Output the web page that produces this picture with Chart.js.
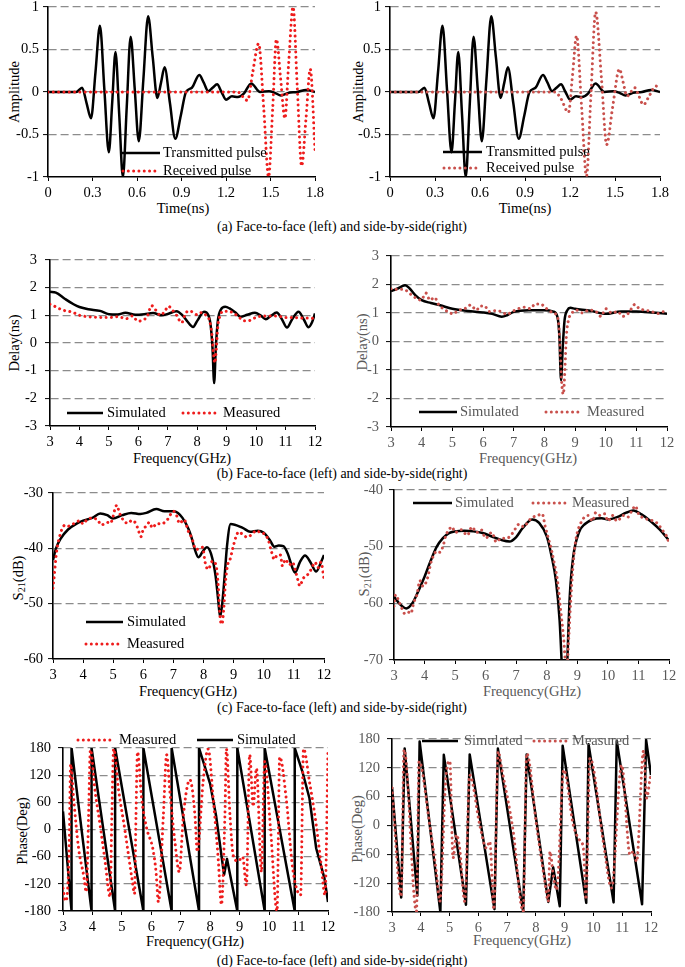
<!DOCTYPE html>
<html><head><meta charset="utf-8">
<script src="https://cdn.jsdelivr.net/npm/chart.js@4.4.1/dist/chart.umd.min.js"></script>
<style>
html,body{margin:0;padding:0;background:#fff;}
body{width:685px;height:967px;position:relative;overflow:hidden;font-family:"Liberation Serif","Times New Roman",serif;}
canvas{position:absolute;}
.t{position:absolute;white-space:nowrap;font-size:14.5px;line-height:1;transform:translate(-50%,-50%);}
.r{transform:translate(-50%,-50%) rotate(-90deg);}
.g{color:#595959;}
.cap{font-size:13.9px;}
sub{font-size:0.7em;vertical-align:-0.25em;line-height:0;}
</style></head>
<body>
<div class="t r" style="left:13.5px;top:92px">Amplitude</div>
<div class="t r" style="left:358px;top:92px">Amplitude</div>
<div class="t" style="left:183px;top:208px">Time(ns)</div>
<div class="t" style="left:525px;top:208px">Time(ns)</div>
<div class="t cap" style="left:342px;top:227px">(a) Face-to-face (left) and side-by-side(right)</div>

<div class="t r" style="left:14px;top:343px">Delay(ns)</div>
<div class="t r g" style="left:362px;top:342px">Delay(ns)</div>
<div class="t" style="left:182px;top:458px">Frequency(GHz)</div>
<div class="t g" style="left:528px;top:458px">Frequency(GHz)</div>
<div class="t cap" style="left:342px;top:474px">(b) Face-to-face (left) and side-by-side(right)</div>

<div class="t r" style="left:18px;top:578px">S<sub>21</sub>(dB)</div>
<div class="t r g" style="left:364px;top:574px">S<sub>21</sub>(dB)</div>
<div class="t" style="left:188px;top:691px">Frequency(GHz)</div>
<div class="t g" style="left:532px;top:691px">Frequency(GHz)</div>
<div class="t cap" style="left:342px;top:708px">(c) Face-to-face (left) and side-by-side(right)</div>

<div class="t r" style="left:21.5px;top:831px">Phase(Deg)</div>
<div class="t r g" style="left:356.5px;top:829px">Phase(Deg)</div>
<div class="t" style="left:195px;top:941px">Frequency(GHz)</div>
<div class="t g" style="left:522px;top:940px">Frequency(GHz)</div>
<div class="t cap" style="left:342px;top:961px">(d) Face-to-face (left) and side-by-side(right)</div>

<script>
// ---------------- tick labels ----------------
const ampTicks = [-1, -0.5, 0, 0.5, 1];
const timeTicks = [0, 0.3, 0.6, 0.9, 1.2, 1.5, 1.8];
const delayTicks = [-3, -2, -1, 0, 1, 2, 3];
const freqTicks = [3, 4, 5, 6, 7, 8, 9, 10, 11, 12];
const s21LeftTicks = [-60, -50, -40, -30];
const s21RightTicks = [-70, -60, -50, -40];
const phaseTicks = [-180, -120, -60, 0, 60, 120, 180];

// ---------------- (a) pulses ----------------
const pulseTime = [0, 0.15, 0.19, 0.23, 0.26, 0.29, 0.32, 0.35, 0.38, 0.41, 0.433, 0.455, 0.48, 0.505, 0.531, 0.557, 0.585, 0.612, 0.643, 0.675, 0.706, 0.737, 0.762, 0.786, 0.822, 0.858, 0.895, 0.93, 0.97, 1.02, 1.05, 1.08, 1.11, 1.14, 1.17, 1.2, 1.24, 1.28, 1.32, 1.37, 1.43, 1.49, 1.53, 1.57, 1.62, 1.68, 1.74, 1.8];
const transmittedPulse = [0, 0, 0, 0.05, -0.13, -0.31, 0.23, 0.78, 0.03, -0.71, -0.12, 0.47, -0.26, -1.0, -0.17, 0.65, 0.03, -0.58, 0.15, 0.89, 0.41, -0.07, 0.11, 0.29, -0.13, -0.55, -0.28, 0.0, 0.05, 0.2, 0.11, 0.01, 0.05, 0.09, 0.0, -0.09, -0.05, -0.06, -0.02, 0.1, 0.0, 0.01, -0.01, -0.04, -0.01, 0.0, 0.025, 0.0];

const recvTimeFace = [0, 1.28, 1.31, 1.345, 1.38, 1.42, 1.455, 1.487, 1.515, 1.54, 1.568, 1.597, 1.623, 1.652, 1.68, 1.71, 1.74, 1.768, 1.8];
const recvPulseFace = [0, 0, -0.05, -0.1, 0.23, 0.57, -0.21, -1.0, -0.19, 0.62, 0.16, -0.31, 0.35, 1.0, 0.07, -0.87, -0.3, 0.27, -0.68];

const recvTimeSide = [0, 1.1, 1.14, 1.19, 1.217, 1.244, 1.277, 1.31, 1.34, 1.371, 1.41, 1.444, 1.485, 1.529, 1.555, 1.58, 1.605, 1.633, 1.66, 1.689, 1.73, 1.773, 1.8];
const recvPulseSide = [0, 0, -0.08, -0.24, 0.2, 0.66, -0.17, -0.99, -0.02, 0.94, 0.15, -0.62, -0.17, 0.27, 0.11, -0.05, 0.0, 0.05, -0.05, -0.15, -0.04, 0.07, 0.04];

// ---------------- (b) group delay ----------------
const delaySimFreqFace = [3.0, 3.2, 3.5, 3.8, 4.0, 4.3, 4.7, 5.0, 5.3, 5.56, 5.9, 6.2, 6.5, 6.8, 7.0, 7.3, 7.5, 7.65, 7.86, 8.0, 8.23, 8.38, 8.46, 8.52, 8.575, 8.63, 8.7, 8.8, 8.95, 9.1, 9.3, 9.47, 9.7, 9.96, 10.15, 10.33, 10.5, 10.7, 10.88, 11.05, 11.22, 11.44, 11.62, 11.78, 11.9, 12.0];
const delaySimFace = [1.85, 1.82, 1.6, 1.4, 1.3, 1.22, 1.16, 1.04, 1.03, 1.09, 1.02, 1.04, 1.08, 1.0, 1.05, 1.15, 1.0, 0.8, 0.58, 0.8, 1.13, 1.0, 0.6, -0.2, -1.45, -0.2, 0.8, 1.2, 1.31, 1.25, 1.1, 0.95, 1.02, 1.09, 1.0, 0.86, 0.98, 1.1, 0.85, 0.56, 0.85, 1.13, 0.85, 0.57, 0.75, 1.07];
const delayMeasFreqFace = [3.0, 3.15, 3.3, 3.5, 3.75, 4.0, 4.3, 4.6, 5.0, 5.3, 5.6, 5.8, 5.98, 6.2, 6.3, 6.45, 6.6, 6.75, 6.9, 7.02, 7.15, 7.3, 7.47, 7.58, 7.68, 7.85, 8.0, 8.15, 8.3, 8.42, 8.5, 8.545, 8.6, 8.65, 8.7, 8.78, 8.88, 9.0, 9.2, 9.4, 9.6, 9.8, 10.0, 10.3, 10.55, 10.8, 11.0, 11.3, 11.6, 11.8, 12.0];
const delayMeasFace = [1.4, 1.33, 1.25, 1.17, 1.12, 1.0, 0.95, 0.93, 0.92, 0.95, 0.88, 0.98, 0.79, 0.85, 0.95, 1.35, 1.18, 1.0, 1.15, 1.33, 1.2, 1.0, 0.73, 1.0, 1.15, 1.12, 1.02, 1.1, 1.0, 0.8, 0.3, -0.3, -0.72, -0.2, 0.6, 1.0, 1.15, 1.15, 1.1, 0.95, 0.8, 0.82, 0.93, 0.98, 0.98, 0.96, 0.92, 0.92, 0.9, 0.9, 0.88];

const delaySimFreqSide = [3.0, 3.2, 3.46, 3.6, 3.8, 4.0, 4.3, 4.6, 5.0, 5.5, 6.0, 6.3, 6.61, 6.8, 7.0, 7.5, 8.0, 8.3, 8.43, 8.49, 8.545, 8.6, 8.66, 8.75, 8.85, 9.0, 9.5, 10.0, 10.5, 11.0, 11.5, 12.0];
const delaySimSide = [1.77, 1.85, 1.97, 1.87, 1.62, 1.45, 1.35, 1.27, 1.15, 1.07, 1.02, 0.97, 0.87, 0.93, 1.04, 1.1, 1.1, 1.05, 0.85, 0.2, -1.36, -0.2, 0.75, 1.1, 1.18, 1.15, 1.08, 0.97, 1.05, 1.05, 1.02, 0.97];
const delayMeasFreqSide = [3.0, 3.2, 3.4, 3.55, 3.68, 3.85, 3.98, 4.14, 4.27, 4.42, 4.55, 4.7, 4.85, 5.03, 5.2, 5.35, 5.6, 5.78, 5.92, 6.05, 6.2, 6.4, 6.6, 6.78, 6.95, 7.15, 7.35, 7.55, 7.7, 7.88, 8.02, 8.2, 8.38, 8.47, 8.52, 8.57, 8.62, 8.67, 8.72, 8.8, 8.9, 9.05, 9.25, 9.45, 9.65, 9.85, 10.0, 10.2, 10.4, 10.55, 10.75, 10.95, 11.1, 11.3, 11.5, 11.7, 11.9, 12.0];
const delayMeasSide = [1.85, 1.83, 1.83, 1.75, 1.62, 1.5, 1.45, 1.7, 1.45, 1.55, 1.3, 1.15, 1.05, 0.97, 1.1, 1.12, 1.28, 1.1, 1.25, 1.25, 1.05, 1.08, 1.05, 0.95, 1.05, 1.15, 1.2, 1.15, 1.32, 1.32, 1.2, 1.05, 0.95, 0.6, -0.4, -1.5, -1.85, -1.0, 0.2, 0.8, 1.0, 1.1, 1.0, 1.1, 1.08, 0.88, 1.15, 1.0, 1.05, 0.88, 1.0, 1.3, 1.15, 1.1, 1.05, 0.98, 1.05, 1.0];

// ---------------- (c) S21 ----------------
const s21SimFreqFace = [3.0, 3.1, 3.25, 3.5, 3.8, 4.0, 4.3, 4.57, 4.8, 4.99, 5.3, 5.6, 5.9, 6.1, 6.43, 6.7, 7.0, 7.15, 7.3, 7.5, 7.6, 7.7, 7.83, 7.97, 8.11, 8.25, 8.4, 8.48, 8.55, 8.62, 8.7, 8.78, 8.9, 9.3, 9.55, 9.8, 10.0, 10.2, 10.35, 10.5, 10.65, 10.8, 10.95, 11.04, 11.2, 11.37, 11.55, 11.74, 11.9, 12.0];
const s21SimFace = [-42.1, -40.0, -38.3, -36.6, -35.5, -35.0, -34.5, -33.7, -34.0, -34.6, -34.0, -33.6, -33.8, -33.6, -32.9, -33.3, -33.3, -33.6, -34.5, -36.5, -38.0, -40.0, -41.6, -40.6, -39.8, -41.0, -45.0, -49.0, -52.4, -50.0, -45.0, -39.5, -35.6, -36.3, -37.0, -36.8, -37.2, -38.5, -39.7, -39.5, -39.6, -41.0, -43.5, -44.4, -42.5, -41.3, -42.5, -44.2, -42.5, -41.2];
const s21MeasFreqFace = [3.0, 3.05, 3.1, 3.15, 3.2, 3.3, 3.4, 3.5, 3.7, 3.9, 4.0, 4.1, 4.3, 4.5, 4.6, 4.8, 4.9, 5.0, 5.05, 5.12, 5.2, 5.35, 5.5, 5.6, 5.75, 5.85, 5.92, 6.0, 6.1, 6.2, 6.3, 6.45, 6.6, 6.8, 7.0, 7.1, 7.2, 7.35, 7.5, 7.6, 7.75, 7.88, 7.97, 8.05, 8.15, 8.3, 8.42, 8.49, 8.55, 8.61, 8.67, 8.73, 8.8, 8.88, 8.97, 9.07, 9.17, 9.3, 9.45, 9.6, 9.75, 9.9, 10.05, 10.15, 10.25, 10.35, 10.45, 10.55, 10.62, 10.72, 10.85, 10.95, 11.05, 11.12, 11.2, 11.3, 11.4, 11.5, 11.6, 11.7, 11.8, 11.9, 12.0];
const s21MeasFace = [-47.2, -44.5, -41.5, -39.5, -38.3, -36.5, -35.8, -36.0, -35.5, -35.0, -35.6, -35.0, -34.5, -35.0, -35.8, -35.3, -35.5, -34.2, -33.0, -32.2, -33.5, -35.0, -35.5, -35.0, -35.5, -37.0, -37.9, -36.5, -36.0, -35.3, -36.3, -35.5, -35.6, -34.8, -33.3, -34.0, -35.5, -34.8, -37.0, -38.0, -40.2, -40.0, -39.8, -42.5, -43.8, -42.3, -43.2, -47.0, -52.5, -53.7, -51.0, -46.0, -43.0, -42.0, -40.0, -38.0, -37.0, -37.5, -38.0, -37.5, -36.8, -37.2, -37.5, -38.5, -40.5, -42.0, -41.2, -41.2, -43.2, -42.0, -43.0, -42.5, -44.0, -45.5, -46.8, -45.5, -45.0, -44.5, -43.5, -42.5, -43.5, -42.5, -45.5];

const s21SimFreqSide = [3.0, 3.2, 3.4, 3.6, 3.8, 4.0, 4.2, 4.4, 4.6, 4.8, 5.0, 5.3, 5.6, 5.9, 6.2, 6.5, 6.78, 7.0, 7.2, 7.52, 7.75, 8.0, 8.15, 8.3, 8.42, 8.5, 8.58, 8.66, 8.75, 8.86, 9.05, 9.25, 9.5, 9.8, 10.0, 10.3, 10.6, 10.83, 11.1, 11.4, 11.7, 12.0];
const s21SimSide = [-58.8, -60.2, -60.9, -60.0, -57.8, -55.3, -52.5, -50.0, -48.5, -47.6, -47.3, -47.2, -47.3, -47.6, -48.2, -48.8, -49.1, -48.3, -46.8, -45.2, -45.8, -48.2, -51.5, -56.0, -63.0, -72.0, -82.0, -72.0, -59.0, -52.0, -47.5, -46.0, -45.2, -45.0, -45.2, -44.8, -44.0, -43.6, -44.3, -45.5, -47.0, -48.9];
const s21MeasFreqSide = [3.0, 3.05, 3.15, 3.25, 3.35, 3.45, 3.55, 3.65, 3.75, 3.85, 3.95, 4.1, 4.2, 4.3, 4.4, 4.5, 4.6, 4.7, 4.8, 4.9, 5.0, 5.2, 5.4, 5.55, 5.7, 5.85, 6.0, 6.2, 6.35, 6.5, 6.65, 6.8, 6.95, 7.1, 7.25, 7.4, 7.55, 7.7, 7.85, 7.95, 8.05, 8.15, 8.25, 8.35, 8.45, 8.55, 8.62, 8.67, 8.72, 8.78, 8.85, 8.92, 9.0, 9.1, 9.2, 9.35, 9.5, 9.6, 9.75, 9.9, 10.0, 10.15, 10.3, 10.5, 10.65, 10.8, 10.9, 11.0, 11.2, 11.4, 11.6, 11.8, 11.95, 12.0];
const s21MeasSide = [-60.5, -58.5, -59.5, -60.8, -61.8, -61.5, -61.8, -59.8, -58.5, -56.0, -57.0, -55.5, -53.0, -51.5, -50.8, -51.0, -50.0, -48.0, -47.0, -46.5, -47.5, -47.0, -48.0, -46.5, -47.5, -47.0, -48.5, -47.5, -49.2, -48.5, -48.5, -48.2, -47.0, -46.0, -46.5, -45.5, -44.8, -44.5, -44.2, -46.5, -48.5, -50.5, -53.0, -56.0, -61.0, -66.0, -70.5, -70.5, -66.0, -60.0, -54.0, -50.0, -47.5, -46.0, -45.0, -44.5, -45.5, -44.0, -44.5, -44.2, -45.5, -44.5, -45.5, -44.5, -44.8, -43.5, -42.8, -44.2, -45.0, -45.3, -45.8, -47.2, -48.5, -49.5];

// ---------------- (d) phase ----------------
const phaseSimFreqFace = [3.0, 3.29, 3.29, 3.97, 3.97, 4.77, 4.77, 5.73, 5.73, 6.69, 6.69, 7.62, 7.62, 8.0, 8.2, 8.47, 8.57, 8.92, 8.92, 9.85, 9.85, 10.87, 10.87, 11.13, 11.37, 11.6, 11.88, 12.0];
const phaseSimFace = [40, -180, 180, -180, 180, -180, 180, -180, 180, -180, 180, -180, 180, 100, 30, -100, -65, -180, 180, -180, 180, -180, 180, 128, 69, -42, -108, -160];
const phaseMeasFreqFace = [3.0, 3.08, 3.16, 3.21, 3.26, 3.36, 3.53, 3.7, 3.79, 3.87, 3.93, 4.09, 4.26, 4.43, 4.6, 4.66, 4.72, 4.88, 5.11, 5.34, 5.43, 5.48, 5.53, 5.67, 5.84, 6.05, 6.16, 6.24, 6.41, 6.52, 6.63, 6.8, 6.95, 7.09, 7.31, 7.48, 7.56, 7.76, 7.93, 8.1, 8.27, 8.38, 8.5, 8.55, 8.67, 8.78, 8.95, 9.1, 9.23, 9.34, 9.46, 9.57, 9.74, 9.85, 10.05, 10.27, 10.36, 10.58, 10.8, 11.07, 11.17, 11.37, 11.6, 11.77, 11.9, 12.0];
const phaseMeasFace = [-130, -158, -130, -42, 144, 69, -42, -101, -138, 32, 176, 84, 10, -71, -149, 32, 178, 91, -5, -108, -142, 32, 171, 69, 3, -42, -94, -160, 32, 165, 84, -27, -94, 32, 110, 32, -49, 106, 178, 69, -64, -166, 32, 178, 32, -57, -70, -60, -123, 165, 51, 135, -94, 150, 0, -180, 160, 69, -86, -145, 178, 106, 10, -79, -145, 178];

const phaseSimFreqSide = [3.0, 3.32, 3.44, 3.88, 3.96, 4.68, 4.8, 5.57, 5.7, 6.56, 6.68, 7.56, 7.68, 8.43, 8.6, 8.83, 8.93, 9.75, 9.83, 10.7, 10.81, 11.69, 11.83, 12.0];
const phaseSimSide = [80, -150, 160, -146, 175, -180, 147, -165, 148, -174, 160, -180, 148, -159, -87, -168, 166, -161, 169, -160, 176, -164, 178, 105];
const phaseMeasFreqSide = [3.0, 3.32, 3.42, 3.85, 3.94, 4.31, 4.54, 4.66, 4.87, 5.01, 5.12, 5.24, 5.35, 5.53, 5.7, 6.05, 6.28, 6.4, 6.54, 6.69, 6.81, 7.21, 7.56, 7.68, 8.02, 8.31, 8.43, 8.49, 8.6, 8.72, 8.97, 9.3, 9.55, 9.65, 9.74, 9.88, 10.34, 10.63, 10.98, 11.27, 11.39, 11.5, 11.74, 11.85, 11.97, 12.0];
const phaseMeasSide = [78, -148, 158, -179, 133, 1, -96, -158, 98, 134, -68, -19, -47, -158, 105, 1, -47, -33, -175, 154, 119, -12, -179, 150, 1, -116, -158, -54, -102, -134, 116, 1, -33, -47, -154, 140, -33, -130, 126, -61, -54, -75, 155, 57, 98, 105];

// ---------------- drawing ----------------
const SERIF = '"Liberation Serif","Times New Roman",serif';
Chart.defaults.font.family = SERIF;
const RED_L = '#ee1c1c', RED_R = '#c9504c', TXT_R = '#595959';

function pts(xs, ys) { return xs.map((x, i) => ({ x: x, y: ys[i] })); }
function solidSet(label, xs, ys, straight) {
  return { label, data: pts(xs, ys), borderColor: '#000', borderWidth: 2.5, pointRadius: 0, fill: false, order: 1,
    cubicInterpolationMode: straight ? 'default' : 'monotone', tension: 0, borderJoinStyle: 'round' };
}
function dotSet(label, xs, ys, color) {
  return { label, data: pts(xs, ys), borderColor: color, borderWidth: 3, borderDash: [0.01, 5.3], borderCapStyle: 'round',
    pointRadius: 0, fill: false, order: 0, cubicInterpolationMode: 'monotone', tension: 0 };
}

const inLegend = {
  id: 'inLegend',
  afterDatasetsDraw(chart, args, opts) {
    const ctx = chart.ctx;
    (opts.items || []).forEach(it => {
      const ds = chart.data.datasets[it.ds];
      const y = it.y - opts.oy;
      ctx.save();
      ctx.strokeStyle = ds.borderColor; ctx.lineWidth = ds.borderWidth;
      ctx.setLineDash(ds.borderDash || []); ctx.lineCap = ds.borderCapStyle || 'butt';
      ctx.beginPath(); ctx.moveTo(it.x1 - opts.ox, y); ctx.lineTo(it.x2 - opts.ox, y); ctx.stroke();
      ctx.setLineDash([]);
      ctx.fillStyle = opts.color; ctx.font = '14.5px ' + SERIF; ctx.textBaseline = 'middle'; ctx.textAlign = 'left';
      ctx.fillText(ds.label, it.tx - opts.ox, y + 0.5);
      ctx.restore();
    });
  }
};

const PAD = { l: 52, t: 22, r: 16, b: 30 };
const fmt = v => String(Math.round(v * 100) / 100);

function panel(p) {
  const b = p.box;
  const w = b.r - b.l + PAD.l + PAD.r, h = b.b - b.t + PAD.t + PAD.b;
  const ox = b.l - PAD.l, oy = b.t - PAD.t;
  const cv = document.createElement('canvas');
  cv.width = w; cv.height = h;
  cv.style.left = ox + 'px'; cv.style.top = oy + 'px'; cv.style.width = w + 'px'; cv.style.height = h + 'px';
  document.body.appendChild(cv);
  const xmin = p.xTicks[0], xmax = p.xTicks[p.xTicks.length - 1];
  const ymin = p.yTicks[0], ymax = p.yTicks[p.yTicks.length - 1];
  const tickFont = { family: SERIF, size: 14.5 };
  new Chart(cv, {
    type: 'line',
    data: { datasets: p.datasets },
    options: {
      responsive: false, animation: false, devicePixelRatio: 1,
      layout: { padding: { left: 0, top: PAD.t, right: PAD.r, bottom: 0 } },
      plugins: { legend: { display: false }, tooltip: { enabled: false },
        inLegend: { items: p.legend, color: p.color, ox: ox, oy: oy } },
      scales: {
        x: {
          type: 'linear', min: xmin, max: xmax,
          afterFit: s => { s.height = PAD.b; },
          afterBuildTicks: s => { s.ticks = p.xTicks.map(v => ({ value: v })); },
          ticks: { font: tickFont, color: p.color, padding: 3, maxRotation: 0, autoSkip: false, callback: fmt },
          grid: { drawOnChartArea: false, drawTicks: true, tickLength: 4, color: '#000', lineWidth: 1 },
          border: { color: '#000', width: 1.6 }
        },
        y: {
          type: 'linear', min: ymin, max: ymax,
          afterFit: s => { s.width = PAD.l; },
          afterBuildTicks: s => { s.ticks = p.yTicks.map(v => ({ value: v })); },
          ticks: { font: tickFont, color: p.color, padding: p.yPad, autoSkip: false, callback: fmt },
          grid: { color: c => (c.tick && c.tick.value === ymin) ? 'rgba(0,0,0,0)' : '#8c8c8c', lineWidth: 1.2,
            drawTicks: true, tickLength: 5, tickColor: '#000', tickWidth: 1 },
          border: { color: '#000', width: 1.6, dash: [8, 4] }
        }
      }
    },
    plugins: [inLegend]
  });
}

// (a)
panel({ box: { l: 48, t: 7, r: 315, b: 177 }, xTicks: timeTicks, yTicks: ampTicks, color: '#000', yPad: 4,
  datasets: [solidSet('Transmitted pulse', pulseTime, transmittedPulse), dotSet('Received pulse', recvTimeFace, recvPulseFace, RED_L)],
  legend: [{ ds: 0, x1: 122, x2: 160, y: 153, tx: 163 }, { ds: 1, x1: 123, x2: 158, y: 171, tx: 163 }] });
panel({ box: { l: 390, t: 7, r: 660, b: 177 }, xTicks: timeTicks, yTicks: ampTicks, color: '#000', yPad: 4,
  datasets: [solidSet('Transmitted pulse', pulseTime, transmittedPulse), dotSet('Received pulse', recvTimeSide, recvPulseSide, RED_R)],
  legend: [{ ds: 0, x1: 443, x2: 482, y: 152, tx: 486 }, { ds: 1, x1: 444, x2: 480, y: 168, tx: 486 }] });
// (b)
panel({ box: { l: 50, t: 260, r: 315, b: 426 }, xTicks: freqTicks, yTicks: delayTicks, color: '#000', yPad: 8,
  datasets: [solidSet('Simulated', delaySimFreqFace, delaySimFace), dotSet('Measured', delayMeasFreqFace, delayMeasFace, RED_L)],
  legend: [{ ds: 0, x1: 67, x2: 103, y: 413, tx: 107 }, { ds: 1, x1: 183, x2: 217, y: 413, tx: 223 }] });
panel({ box: { l: 391, t: 256, r: 667, b: 427 }, xTicks: freqTicks, yTicks: delayTicks, color: TXT_R, yPad: 7,
  datasets: [solidSet('Simulated', delaySimFreqSide, delaySimSide), dotSet('Measured', delayMeasFreqSide, delayMeasSide, RED_R)],
  legend: [{ ds: 0, x1: 419, x2: 457, y: 412, tx: 460 }, { ds: 1, x1: 546, x2: 580, y: 412, tx: 587 }] });
// (c)
panel({ box: { l: 53, t: 493, r: 324, b: 659 }, xTicks: freqTicks, yTicks: s21LeftTicks, color: '#000', yPad: 5,
  datasets: [solidSet('Simulated', s21SimFreqFace, s21SimFace), dotSet('Measured', s21MeasFreqFace, s21MeasFace, RED_L)],
  legend: [{ ds: 0, x1: 86, x2: 123, y: 622, tx: 127 }, { ds: 1, x1: 86, x2: 120, y: 644, tx: 127 }] });
panel({ box: { l: 394, t: 490, r: 669, b: 660 }, xTicks: freqTicks, yTicks: s21RightTicks, color: TXT_R, yPad: 6,
  datasets: [solidSet('Simulated', s21SimFreqSide, s21SimSide), dotSet('Measured', s21MeasFreqSide, s21MeasSide, RED_R)],
  legend: [{ ds: 0, x1: 413, x2: 452, y: 503, tx: 455 }, { ds: 1, x1: 533, x2: 568, y: 503, tx: 572 }] });
// (d)
panel({ box: { l: 63, t: 748, r: 328, b: 911 }, xTicks: freqTicks, yTicks: phaseTicks, color: '#000', yPad: 7,
  datasets: [solidSet('Simulated', phaseSimFreqFace, phaseSimFace, true), dotSet('Measured', phaseMeasFreqFace, phaseMeasFace, RED_L)],
  legend: [{ ds: 1, x1: 78, x2: 115, y: 740, tx: 119 }, { ds: 0, x1: 197, x2: 233, y: 740, tx: 237 }] });
panel({ box: { l: 392, t: 739, r: 651, b: 912 }, xTicks: freqTicks, yTicks: phaseTicks, color: TXT_R, yPad: 7,
  datasets: [solidSet('Simulated', phaseSimFreqSide, phaseSimSide, true), dotSet('Measured', phaseMeasFreqSide, phaseMeasSide, RED_R)],
  legend: [{ ds: 0, x1: 422, x2: 458, y: 741, tx: 464 }, { ds: 1, x1: 534, x2: 570, y: 741, tx: 572 }] });
</script>
</body></html>
